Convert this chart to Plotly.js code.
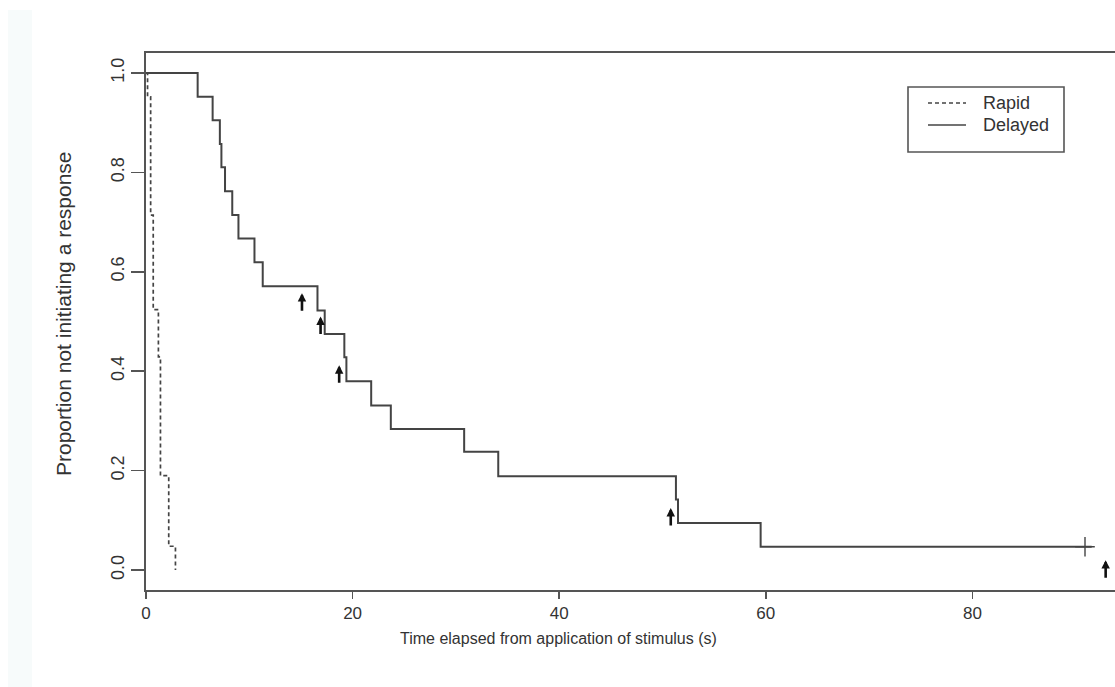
<!DOCTYPE html>
<html>
<head>
<meta charset="utf-8">
<script src="https://cdn.plot.ly/plotly-3.0.1.min.js"></script>
<style>
html,body{margin:0;padding:0;overflow:hidden;background:#ffffff;}
#chart{width:1125px;height:687px;}
</style>
</head>
<body>
<div id="chart"></div>
<script>
// ---- data ----
const rapidTimes = [0, 0.15, 0.45, 0.7, 1.2, 1.4, 2.2, 2.85];
const rapidSurv  = [1.0, 0.952, 0.714, 0.524, 0.429, 0.190, 0.048, 0.0];

const delayedTimes = [0, 5.0, 6.45, 7.15, 7.3, 7.65, 8.35, 8.95, 10.5, 11.3, 16.6, 17.3, 19.2, 19.4, 21.8, 23.7, 30.8, 34.1, 51.3, 51.5, 59.5, 91.55];
const delayedSurv  = [1.0, 0.952, 0.905, 0.857, 0.810, 0.762, 0.714, 0.667, 0.619, 0.571, 0.522, 0.475, 0.428, 0.380, 0.331, 0.284, 0.238, 0.189, 0.142, 0.095, 0.047, 0.047];

const censorTimes = [90.9];
const censorSurv  = [0.047];

// arrow tips (time, proportion)
const arrowTimes = [15.1, 16.9, 18.7, 50.8, 92.9];
const arrowTips  = [0.557, 0.510, 0.412, 0.125, 0.020];

const seriesNames = ["Rapid", "Delayed"];
const xTickVals = [0, 20, 40, 60, 80];
const yTickVals = [0, 0.2, 0.4, 0.6, 0.8, 1.0];

const xTitle = "Time elapsed from application of stimulus (s)";
const yTitle = "Proportion not initiating a response";

// ---- layout geometry (pixels) ----
const L = 146, R = 1125, T = 53, B = 590;
const W = R - L, H = B - T;
const px = x => (x - L) / W;
const py = y => (B - y) / H;

const curveColor = "#444444";
const textColor = "#333333";
const fontReg = "Liberation Sans, Arial, sans-serif";

const traces = [
  {
    x: rapidTimes, y: rapidSurv, name: seriesNames[0], type: "scatter", mode: "lines",
    line: {shape: "hv", color: curveColor, width: 1.7, dash: "4px,3px"}, showlegend: false, hoverinfo: "x+y"
  },
  {
    x: delayedTimes, y: delayedSurv, name: seriesNames[1], type: "scatter", mode: "lines",
    line: {shape: "hv", color: curveColor, width: 2}, showlegend: false, hoverinfo: "x+y"
  },
  {
    x: censorTimes, y: censorSurv, type: "scatter", mode: "markers", showlegend: false,
    marker: {symbol: "cross-thin", size: 14, line: {color: curveColor, width: 1.4}}, hoverinfo: "skip"
  }
];

const annotations = [];
arrowTimes.forEach((t, i) => {
  annotations.push({
    x: t, y: arrowTips[i], xref: "x", yref: "y", text: "", showarrow: true,
    ax: 0, ay: 19, arrowhead: 2, arrowsize: 0.65, arrowwidth: 2.6, arrowcolor: "#111111",
    standoff: 0, startstandoff: 0
  });
});

// axis titles
annotations.push({
  xref: "paper", yref: "paper", x: px(558), y: py(638), text: xTitle, showarrow: false,
  xanchor: "center", yanchor: "middle", font: {family: fontReg, size: 16, color: textColor}
});
annotations.push({
  xref: "paper", yref: "paper", x: px(63), y: py(314), text: yTitle, showarrow: false, textangle: -90,
  xanchor: "center", yanchor: "middle", font: {family: fontReg, size: 21, color: textColor}
});

// legend (drawn manually)
const legendY = [103, 125];
seriesNames.forEach((n, i) => {
  annotations.push({
    xref: "paper", yref: "paper", x: px(981), y: py(legendY[i]), text: n, showarrow: false,
    xanchor: "left", yanchor: "middle", font: {family: fontReg, size: 18, color: textColor}
  });
});

const shapes = [
  // faint tinted strip at far left of the picture
  {type: "rect", xref: "paper", yref: "paper", x0: px(8), x1: px(32), y0: py(687), y1: py(10),
   fillcolor: "#f7fbfb", line: {width: 0}, layer: "below"},
  // legend box
  {type: "rect", xref: "paper", yref: "paper", x0: px(908), x1: px(1064), y0: py(152), y1: py(87),
   fillcolor: "rgba(0,0,0,0)", line: {color: "#555555", width: 1.6}},
  // legend samples
  {type: "line", xref: "paper", yref: "paper", x0: px(928), x1: px(966), y0: py(legendY[0]), y1: py(legendY[0]),
   line: {color: curveColor, width: 1.6, dash: "4px,3px"}},
  {type: "line", xref: "paper", yref: "paper", x0: px(928), x1: px(966), y0: py(legendY[1]), y1: py(legendY[1]),
   line: {color: curveColor, width: 1.6}}
];

const layout = {
  width: 1125, height: 687,
  margin: {l: L, r: 1125 - R, t: T, b: 687 - B, pad: 0},
  paper_bgcolor: "#ffffff", plot_bgcolor: "#ffffff",
  showlegend: false,
  xaxis: {
    range: [0, W / 10.33], tickvals: xTickVals, ticktext: xTickVals.map(String),
    ticks: "outside", ticklen: 7, tickwidth: 1.5, tickcolor: "#555555",
    showline: true, mirror: true, linecolor: "#555555", linewidth: 1.8,
    showgrid: false, zeroline: false,
    tickfont: {family: fontReg, size: 17, color: textColor}
  },
  yaxis: {
    range: [-0.04, 1.04], tickvals: yTickVals, ticktext: yTickVals.map(v => v.toFixed(1)),
    tickangle: -90, ticks: "outside", ticklen: 13, tickwidth: 1.5, tickcolor: "#555555",
    showline: true, mirror: true, linecolor: "#555555", linewidth: 1.8,
    showgrid: false, zeroline: false,
    tickfont: {family: fontReg, size: 18, color: textColor}
  },
  annotations: annotations,
  shapes: shapes
};

Plotly.newPlot("chart", traces, layout, {displayModeBar: false, staticPlot: true});
</script>
</body>
</html>
